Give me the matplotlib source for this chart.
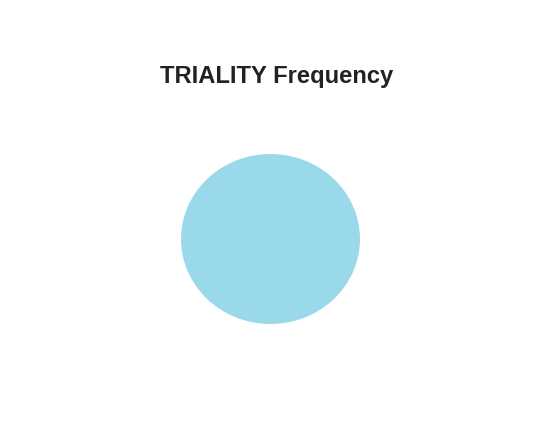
import matplotlib
matplotlib.use("Agg")
import matplotlib.pyplot as plt

# data: only one category present, so the pie is a full disc
categories = ["TRIALITY"]
counts = [1]
colors = ["#9AD9EA"]

plt.rcParams['font.family'] = ['Liberation Sans', 'DejaVu Sans']

fig = plt.figure(figsize=(5.57, 4.24), dpi=100)
ax = fig.add_axes([181 / 557, 100 / 424, 179 / 557, 170 / 424])
ax.pie(counts, colors=colors, radius=1, startangle=90,
       wedgeprops={'linewidth': 0})
ax.set_aspect('auto')
ax.set_xlim(-1, 1)
ax.set_ylim(-1, 1)
ax.axis('off')

fig.text(276.5 / 557, 1 - 77 / 424, "TRIALITY Frequency", ha='center', va='center',
         fontsize=17.1, fontweight='bold', color='#222222')

fig.savefig("out.png", dpi=100)
